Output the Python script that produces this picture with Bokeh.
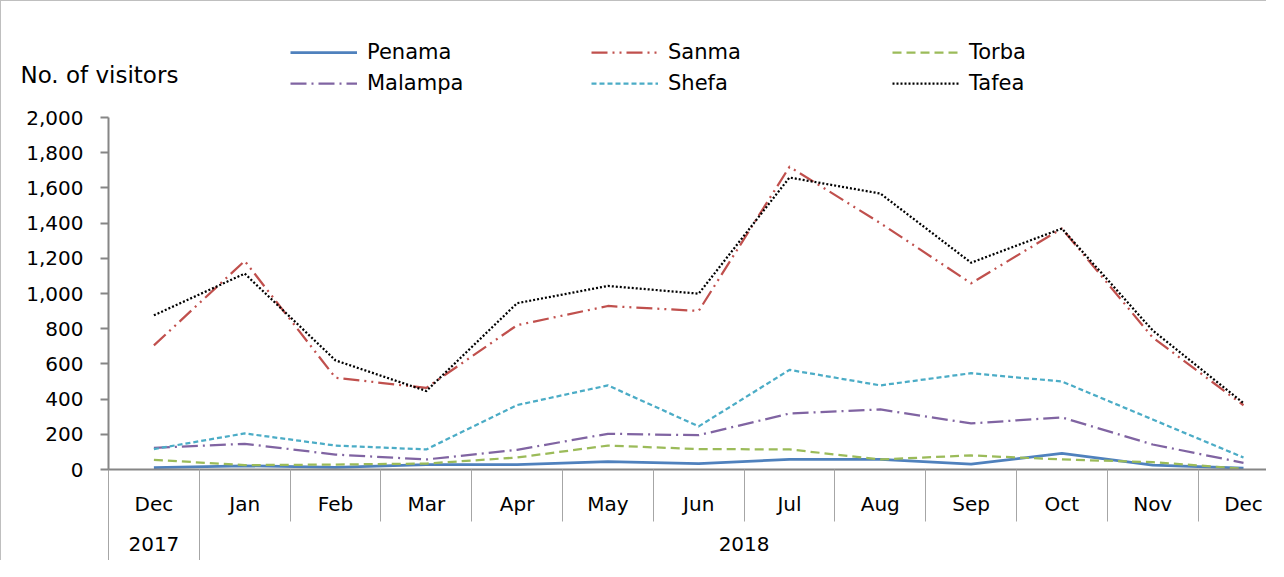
from bokeh.plotting import figure
from bokeh.models import (Range1d, FixedTicker, LinearAxis, Legend, LegendItem,
                          Label, NumeralTickFormatter)
from bokeh.embed import file_html
from bokeh.resources import INLINE

# ---- data ----
months = ["Dec", "Jan", "Feb", "Mar", "Apr", "May", "Jun",
          "Jul", "Aug", "Sep", "Oct", "Nov", "Dec"]
years = ["2017", "2018"]
year_centers = [0, 6.5]
year_bounds = [-0.5, 0.5]

penama = [10, 21, 12, 27, 28, 45, 33, 57, 57, 31, 91, 25, 8]
sanma = [705, 1185, 521, 464, 820, 929, 901, 1720, 1400, 1058, 1369, 750, 365]
torba = [55, 25, 28, 34, 68, 136, 116, 114, 57, 80, 57, 42, 4]
malampa = [123, 146, 85, 57, 112, 203, 195, 318, 341, 262, 296, 142, 38]
shefa = [116, 205, 136, 114, 366, 478, 245, 566, 478, 547, 500, 284, 68]
tafea = [876, 1113, 620, 446, 945, 1043, 999, 1659, 1568, 1175, 1369, 790, 377]

y_ticks = list(range(0, 2001, 200))
y_max_tick = 2000

x = list(range(len(months)))

# ---- layout constants (pixels) ----
W, H = 1266, 560
X_LEFT_PX = 107          # where the first category starts
CAT_W = 90.8             # width of one category
Y0_PX = 468              # row of the value 0
PX_PER_UNIT = 352 / 2000

x_lo = -0.5 - X_LEFT_PX / CAT_W
x_hi = -0.5 + (W - X_LEFT_PX) / CAT_W
y_hi = Y0_PX / PX_PER_UNIT
y_lo = -(H - Y0_PX) / PX_PER_UNIT

FONT = "DejaVu Sans"
GRAY = "#868686"
SEP = "#A6A6A6"

p = figure(width=W, height=H, output_backend="svg", toolbar_location=None,
           x_range=Range1d(x_lo, x_hi), y_range=Range1d(y_lo, y_hi),
           min_border=0, min_border_left=0, min_border_top=0,
           min_border_bottom=0, min_border_right=0, x_axis_type=None)
p.outline_line_color = None
p.ygrid.visible = False
p.styles = {"border-top": "1px solid #BFBFBF", "border-left": "1px solid #BFBFBF"}

# y axis (fixed at the left edge of the first category)
ya = p.yaxis[0]
ya.fixed_location = -0.5
ya.bounds = (0, y_max_tick)
ya.ticker = FixedTicker(ticks=y_ticks)
ya.formatter = NumeralTickFormatter(format="0,0")
ya.major_label_text_font = FONT
ya.major_label_text_font_size = "20px"
ya.major_label_text_color = "black"
ya.axis_line_color = GRAY
ya.axis_line_width = 2
ya.major_tick_line_color = GRAY
ya.major_tick_line_width = 2
ya.major_tick_out = 8
ya.major_tick_in = 0
ya.minor_tick_line_color = None
ya.major_label_standoff = 17


def x_axis(**kw):
    base = dict(fixed_location=0, bounds=(-0.5, x_hi),
                major_label_text_font=FONT, major_label_text_font_size="20px",
                major_label_text_color="black", axis_line_color=None,
                major_tick_out=0, major_tick_in=0, major_tick_line_color=None,
                minor_tick_out=0, minor_tick_in=0, minor_tick_line_color=None)
    base.update(kw)
    ax = LinearAxis(**base)
    p.add_layout(ax, "below")
    return ax


# month labels + axis line
x_axis(ticker=FixedTicker(ticks=x),
       major_label_overrides={i: m for i, m in enumerate(months)},
       axis_line_color=GRAY, axis_line_width=2, major_label_standoff=22)
# month separators
x_axis(ticker=FixedTicker(ticks=[], minor_ticks=[i - 0.5 for i in x]),
       major_label_text_font_size="0px",
       minor_tick_out=52, minor_tick_line_color=SEP, minor_tick_line_width=1)
# year labels
x_axis(ticker=FixedTicker(ticks=year_centers),
       major_label_overrides={year_centers[i]: y for i, y in enumerate(years)},
       major_label_standoff=67)
# year separators
x_axis(ticker=FixedTicker(ticks=[], minor_ticks=year_bounds),
       major_label_text_font_size="0px",
       minor_tick_out=H - Y0_PX, minor_tick_line_color=SEP,
       minor_tick_line_width=1)

series = [
    ("Penama", penama, "#4F81BD", None, 2.75),
    ("Sanma", sanma, "#C0504D", "16 5 2 5 2 5", 2.25),
    ("Torba", torba, "#9BBB59", "9 5", 2.25),
    ("Malampa", malampa, "#8064A2", "16 5 2 5", 2.25),
    ("Shefa", shefa, "#4BACC6", "5 3", 2.25),
    ("Tafea", tafea, "#000000", "2 2", 2.25),
]

items = []
for name, vals, col, dash, lw in series:
    kw = dict(line_color=col, line_width=lw, line_join="round")
    if dash:
        kw["line_dash"] = dash
    r = p.line(x, vals, **kw)
    items.append(LegendItem(label=name, renderers=[r]))

legend = Legend(items=items, orientation="horizontal", ncols=3,
                location=(289, H - 93.5), glyph_width=67, glyph_height=20,
                label_standoff=10, label_width=217, spacing=7,
                padding=0, margin=0, border_line_color=None,
                background_fill_alpha=0,
                label_text_font=FONT, label_text_font_size="21px",
                label_text_color="black")
p.add_layout(legend, "center")

p.add_layout(Label(x=-0.5, y=y_max_tick, x_offset=-88, y_offset=43,
                   text="No. of visitors", text_font=FONT,
                   text_font_size="23px", text_align="left",
                   text_baseline="middle", text_color="black"))

open("out.html", "w").write(file_html(p, INLINE))
